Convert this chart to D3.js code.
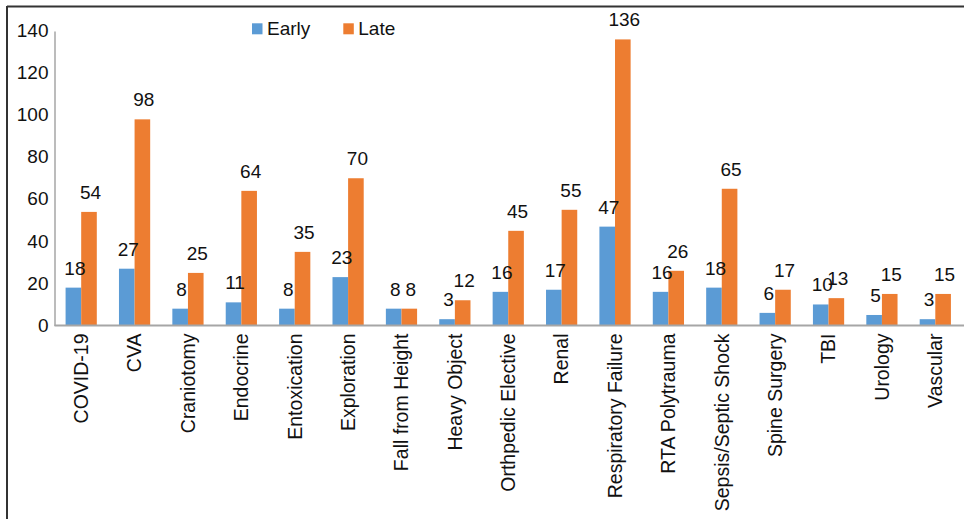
<!DOCTYPE html>
<html>
<head>
<meta charset="utf-8">
<script src="https://cdn.jsdelivr.net/npm/d3@7/dist/d3.min.js"></script>
<style>
  html, body { margin: 0; padding: 0; background: #fff; }
  svg { display: block; font-family: "Liberation Sans", Arial, sans-serif; }
</style>
</head>
<body>
<svg id="chart" width="964" height="519"></svg>
<script>
// Admission categories and counts per timing group
const categories = ["COVID-19", "CVA", "Craniotomy", "Endocrine", "Entoxication", "Exploration",
  "Fall from Height", "Heavy Object", "Orthpedic Elective", "Renal", "Respiratory Failure",
  "RTA Polytrauma", "Sepsis/Septic Shock", "Spine Surgery", "TBI", "Urology", "Vascular"];
const earlyValues = [18, 27, 8, 11, 8, 23, 8, 3, 16, 17, 47, 16, 18, 6, 10, 5, 3];
const lateValues  = [54, 98, 25, 64, 35, 70, 8, 12, 45, 55, 136, 26, 65, 17, 13, 15, 15];
const seriesNames = ["Early", "Late"];
const yTicks = [0, 20, 40, 60, 80, 100, 120, 140];

const colors = { Early: "#5B9BD5", Late: "#ED7D31" };
const FONT = 19;

const svg = d3.select("#chart");
const W = 964, H = 519;
const plot = { left: 54.5, right: 962, top: 31, bottom: 325.5 };

// Frame lines on the top and left
svg.append("line").attr("x1", 7).attr("x2", W).attr("y1", 6.5).attr("y2", 6.5)
  .attr("stroke", "#333").attr("stroke-width", 2);
svg.append("line").attr("x1", 7).attr("x2", 7).attr("y1", 6).attr("y2", H)
  .attr("stroke", "#333").attr("stroke-width", 2);

const x = d3.scaleBand().domain(categories).range([plot.left, plot.right]).paddingInner(0).paddingOuter(0);
const xSub = d3.scaleBand().domain(seriesNames).range([0, x.bandwidth()]).paddingInner(0).paddingOuter(0.71);
const y = d3.scaleLinear().domain([0, 140]).range([plot.bottom, plot.top]);

const data = categories.map((c, i) => ({ category: c, values: [
  { series: "Early", value: earlyValues[i] },
  { series: "Late", value: lateValues[i] }
]}));

// Bars
const groups = svg.append("g").selectAll("g").data(data).join("g")
  .attr("transform", d => `translate(${x(d.category)},0)`);
groups.selectAll("rect").data(d => d.values).join("rect")
  .attr("x", d => xSub(d.series))
  .attr("width", xSub.bandwidth())
  .attr("y", d => y(d.value))
  .attr("height", d => y(0) - y(d.value))
  .attr("fill", d => colors[d.series]);

// Value labels above bars
groups.selectAll("text").data(d => d.values).join("text")
  .attr("x", d => xSub(d.series) + xSub.bandwidth() / 2 + 1.5)
  .attr("y", d => y(d.value) - 13)
  .attr("text-anchor", "middle")
  .attr("font-size", FONT)
  .attr("fill", "#111")
  .text(d => d.value);

// Y axis
const yAxis = d3.axisLeft(y).tickValues(yTicks).tickSize(0).tickPadding(6);
const gy = svg.append("g").attr("transform", `translate(${plot.left},0)`).call(yAxis);
gy.select(".domain").attr("stroke", "#a6a6a6").attr("stroke-width", 1.5);
gy.selectAll("text").attr("font-size", FONT).attr("fill", "#111")
  .attr("font-family", "Liberation Sans, Arial, sans-serif").attr("dy", "0.3em");

// X axis with rotated category labels
const xAxis = d3.axisBottom(x).tickSize(0).tickPadding(0);
const gx = svg.append("g").attr("transform", `translate(0,${plot.bottom})`).call(xAxis);
gx.select(".domain").attr("stroke", "#a6a6a6").attr("stroke-width", 2)
  .attr("d", `M${plot.left},0H${W}`);
gx.selectAll("text")
  .attr("font-size", 19.5).attr("fill", "#111")
  .attr("font-family", "Liberation Sans, Arial, sans-serif")
  .attr("transform", "rotate(-90)")
  .attr("text-anchor", "end")
  .attr("x", -8).attr("y", 0).attr("dy", "0.35em");

// Legend
const legendPos = [{ name: "Early", x: 252 }, { name: "Late", x: 343.3 }];
const legend = svg.append("g").selectAll("g").data(legendPos).join("g")
  .attr("transform", d => `translate(${d.x},23.3)`);
legend.append("rect").attr("width", 10.5).attr("height", 11).attr("fill", d => colors[d.name]);
legend.append("text").attr("x", 15).attr("y", 5.5).attr("dy", "0.35em")
  .attr("font-size", FONT).attr("fill", "#111").text(d => d.name);
</script>
</body>
</html>
